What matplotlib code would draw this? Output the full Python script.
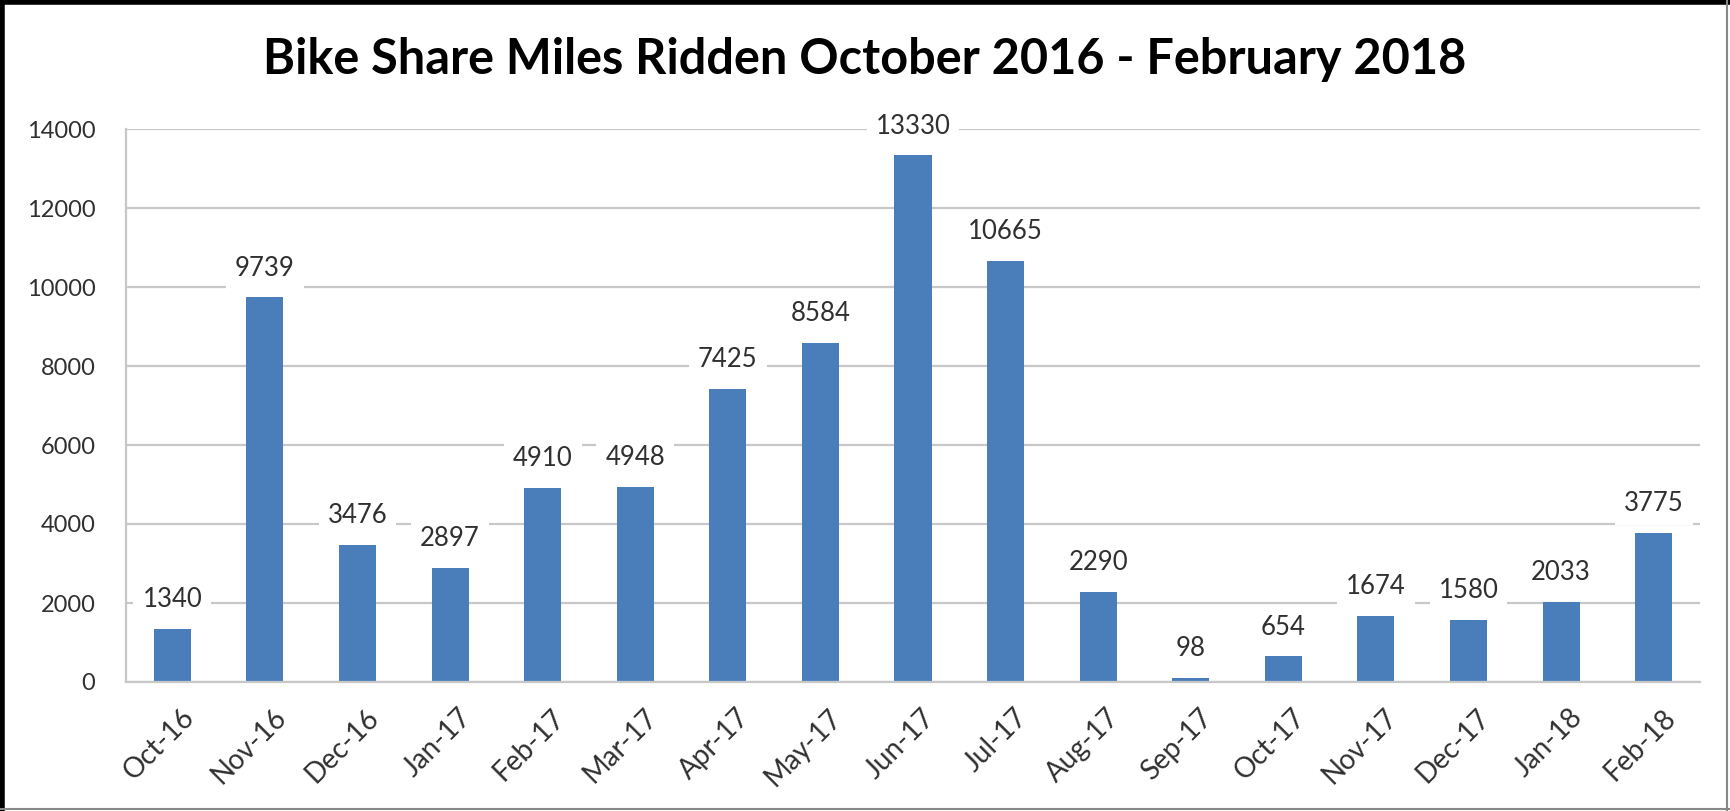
import matplotlib
matplotlib.use("Agg")
import matplotlib.pyplot as plt
import matplotlib.transforms as mtransforms
from matplotlib.lines import Line2D

# monthly miles ridden
months = ["Oct-16", "Nov-16", "Dec-16", "Jan-17", "Feb-17", "Mar-17", "Apr-17",
          "May-17", "Jun-17", "Jul-17", "Aug-17", "Sep-17", "Oct-17", "Nov-17",
          "Dec-17", "Jan-18", "Feb-18"]
miles = [1340, 9739, 3476, 2897, 4910, 4948, 7425, 8584, 13330, 10665,
         2290, 98, 654, 1674, 1580, 2033, 3775]
yticks = [0, 2000, 4000, 6000, 8000, 10000, 12000, 14000]

plt.rcParams['font.family'] = ['Lato', 'DejaVu Sans']

fig = plt.figure(figsize=(17.3, 8.11), dpi=100)
ax = fig.add_axes([126 / 1730, 1 - 682 / 811, (1700 - 126) / 1730, (682 - 129) / 811])

x = range(len(months))
ax.bar(x, miles, width=0.4, color='#4A7EBB', zorder=2)

# value labels with white boxes that cut the gridlines
for i, v in zip(x, miles):
    ax.annotate(str(v), (i, v), xytext=(0, 21), textcoords='offset points',
                ha='center', va='center', fontsize=18.5, color='#303030', zorder=4,
                bbox=dict(boxstyle='square,pad=0.35', fc='white', ec='none'))

ax.set_xlim(-0.5, len(months) - 0.5)
ax.set_ylim(0, 14000)
ax.set_yticks(yticks)
ax.set_xticks(list(x))
ax.set_xticklabels(months, rotation=45, ha='right', rotation_mode='anchor', fontsize=20)
ax.tick_params(axis='both', length=0, colors='#303030')
ax.tick_params(axis='y', labelsize=17, pad=22)
ax.tick_params(axis='x', pad=16)
shift = mtransforms.ScaledTranslation(6 / 72, 0, fig.dpi_scale_trans)
for lab in ax.get_xticklabels():
    lab.set_transform(lab.get_transform() + shift)

ax.yaxis.grid(True, color='#C8C8C8', linewidth=1.6, zorder=0)
ax.set_axisbelow(True)
for s in ['top', 'right']:
    ax.spines[s].set_visible(False)
for s in ['left', 'bottom']:
    ax.spines[s].set_color('#C8C8C8')
    ax.spines[s].set_linewidth(1.6)

fig.text(0.5, 1 - 60 / 811, 'Bike Share Miles Ridden October 2016 - February 2018',
         ha='center', va='center', fontsize=35, fontweight='bold', color='black')

# outer frame
fig.add_artist(Line2D([0.001, 0.001], [0, 1], color='black', lw=4, transform=fig.transFigure))
fig.add_artist(Line2D([0, 1], [0.998, 0.998], color='black', lw=4, transform=fig.transFigure))
fig.add_artist(Line2D([0.9985, 0.9985], [0, 1], color='#888888', lw=1.5, transform=fig.transFigure))
fig.add_artist(Line2D([0, 1], [0.002, 0.002], color='#888888', lw=1.5, transform=fig.transFigure))

fig.savefig('out.png', dpi=100)
